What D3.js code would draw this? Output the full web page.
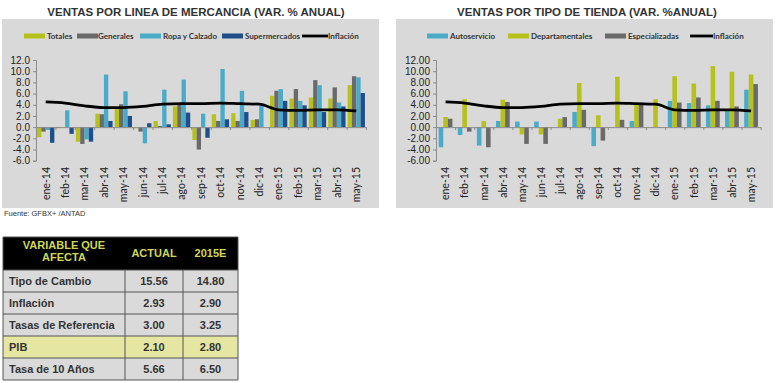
<!DOCTYPE html>
<html>
<head>
<meta charset="utf-8">
<script src="https://cdn.jsdelivr.net/npm/d3@7"></script>
<style>
  body { margin: 0; background: #fff; }
  svg { display: block; }
</style>
</head>
<body>
<svg></svg>
<script>
let width = 780;
let height = 383;

const months = ['ene-14', 'feb-14', 'mar-14', 'abr-14', 'may-14', 'jun-14', 'jul-14', 'ago-14',
  'sep-14', 'oct-14', 'nov-14', 'dic-14', 'ene-15', 'feb-15', 'mar-15', 'abr-15', 'may-15'];

// ventas por linea de mercancia
const totales       = [-1.8, -0.2, -2.6, 2.4, 3.3, -0.2, 1.1, 3.7, -2.3, 2.3, 2.5, 1.3, 5.6, 5.1, 5.3, 5.1, 7.5];
const generales     = [-0.8, 0.0, -3.0, 2.3, 4.1, -0.8, 0.2, 4.0, -4.0, 1.1, 1.1, 1.4, 6.5, 6.8, 8.4, 7.1, 9.1];
const ropaCalzado   = [-0.5, 3.0, -2.2, 9.4, 6.4, -2.9, 6.7, 8.5, 2.4, 10.4, 6.5, 3.9, 6.8, 4.7, 7.5, 4.4, 8.9];
const supermercados = [-2.8, -1.2, -2.6, 1.1, 2.0, 0.7, 0.5, 2.6, -1.9, 1.4, 2.7, 0.0, 4.7, 3.9, 2.7, 3.7, 6.1];

// ventas por tipo de tienda
const autoservicio     = [-3.6, -1.4, -3.3, 1.1, 1.0, 1.0, 0.0, 2.7, -3.4, 0.0, 1.1, 0.0, 4.7, 4.3, 3.9, 3.2, 6.7];
const departamentales  = [1.8, 5.0, 1.1, 4.9, -1.3, -1.3, 1.5, 7.9, 2.1, 9.0, 4.1, 5.0, 9.1, 7.8, 10.9, 9.9, 9.4];
const especializadas   = [1.5, -0.8, -3.6, 4.5, -3.0, -3.0, 1.8, 3.1, -2.4, 1.3, 4.2, -0.1, 4.4, 5.3, 4.7, 3.7, 7.7];

const inflacion = [4.5, 4.3, 3.8, 3.5, 3.5, 3.7, 4.1, 4.2, 4.2, 4.3, 4.2, 4.1, 3.1, 3.0, 3.1, 3.1, 2.9];

const leftTicks = ['12.0', '10.0', '8.0', '6.0', '4.0', '2.0', '0.0', '-2.0', '-4.0', '-6.0'];
const rightTicks = ['12.00', '10.00', '8.00', '6.00', '4.00', '2.00', '0.00', '-2.00', '-4.00', '-6.00'];

// tabla
const variables = ['Tipo de Cambio', 'Inflación', 'Tasas de Referencia', 'PIB', 'Tasa de 10 Años'];
const actual    = ['15.56', '2.93', '3.00', '2.10', '5.66'];
const est2015   = ['14.80', '2.90', '3.25', '2.80', '6.50'];

const colors = {
  olive: '#b7c11c',
  gray: '#6a6a6a',
  light: '#4aabc8',
  navy: '#1f4e8a'
};

let svg = d3.select('svg')
            .attr('width', width)
            .attr('height', height)
            .style('font-family', 'Lato, "Open Sans", sans-serif');

makeChart({
  x0: 2, panelW: 377, title: 'VENTAS POR LINEA DE MERCANCIA  (VAR. % ANUAL)', titleX: 196,
  range: [36, 366], padding: 0.11,
  series: [
    { name: 'Totales', values: totales, color: colors.olive, lx: 24, tx: 47 },
    { name: 'Generales', values: generales, color: colors.gray, lx: 77, tx: 98 },
    { name: 'Ropa y Calzado', values: ropaCalzado, color: colors.light, lx: 140, tx: 163 },
    { name: 'Supermercados', values: supermercados, color: colors.navy, lx: 222, tx: 245 }
  ],
  inflLegend: { lx: 302, tx: 328 },
  ticks: leftTicks
});

makeChart({
  x0: 396, panelW: 377, title: 'VENTAS POR TIPO DE TIENDA (VAR. %ANUAL)', titleX: 587,
  range: [436, 760.6], padding: 0.28,
  series: [
    { name: 'Autoservicio', values: autoservicio, color: colors.light, lx: 427, tx: 450 },
    { name: 'Departamentales', values: departamentales, color: colors.olive, lx: 508, tx: 531 },
    { name: 'Especializadas', values: especializadas, color: colors.gray, lx: 605, tx: 628 }
  ],
  inflLegend: { lx: 690, tx: 713 },
  ticks: rightTicks
});

function makeChart(cfg) {
  let g = svg.append('g');

  g.append('rect')
    .attr('x', cfg.x0).attr('y', 19)
    .attr('width', cfg.panelW).attr('height', 189)
    .attr('fill', '#d9d9d9');

  svg.append('text')
    .attr('x', cfg.titleX).attr('y', 16)
    .attr('text-anchor', 'middle')
    .style('font-family', '"Liberation Sans", Arial, sans-serif')
    .style('font-weight', 'bold')
    .style('font-size', '11.5px')
    .attr('fill', '#333')
    .text(cfg.title);

  let x = d3.scaleBand().domain(months).range(cfg.range).paddingInner(cfg.padding).paddingOuter(cfg.padding / 2);
  let xs = d3.scaleBand().domain(cfg.series.map(s => s.name)).range([0, x.bandwidth()]);
  let y = d3.scaleLinear().domain([-6, 12]).range([160.7, 60]);

  // bars
  cfg.series.forEach(s => {
    g.selectAll(null)
      .data(s.values)
      .enter()
      .append('rect')
        .attr('x', (d, i) => x(months[i]) + xs(s.name))
        .attr('y', d => y(Math.max(0, d)))
        .attr('width', xs.bandwidth())
        .attr('height', d => Math.abs(y(d) - y(0)))
        .attr('fill', s.color);
  });

  // y axis
  let yAxis = d3.axisLeft(y)
    .tickValues(cfg.ticks.map(Number))
    .tickFormat((d, i) => cfg.ticks[i])
    .tickSize(3);
  let ya = g.append('g')
    .attr('transform', `translate(${cfg.range[0]},0)`)
    .call(yAxis);
  ya.select('.domain').attr('stroke', '#8c8c8c');
  ya.selectAll('.tick line').attr('stroke', '#8c8c8c');
  ya.selectAll('text')
    .attr('x', -6)
    .style('font-size', '10px')
    .attr('fill', '#222');

  // zero line with category ticks
  let xAxis = d3.axisBottom(d3.scaleLinear().domain([0, months.length]).range(cfg.range))
    .tickValues(d3.range(months.length + 1))
    .tickFormat('')
    .tickSize(3)
    .tickSizeOuter(0);
  let xa = g.append('g')
    .attr('transform', `translate(0,${y(0)})`)
    .call(xAxis);
  xa.select('.domain').attr('stroke', '#8c8c8c');
  xa.selectAll('.tick line').attr('stroke', '#8c8c8c');

  // month labels
  g.selectAll(null)
    .data(months)
    .enter()
    .append('text')
      .attr('transform', d => `translate(${x(d) + x.bandwidth() / 2 + 3.8},167) rotate(-90)`)
      .attr('text-anchor', 'end')
      .style('font-size', '10.5px')
      .attr('fill', '#222')
      .text(d => d);

  // inflation line
  let line = d3.line()
    .x((d, i) => x(months[i]) + x.bandwidth() / 2)
    .y(d => y(d))
    .curve(d3.curveMonotoneX);
  g.append('path')
    .datum(inflacion)
    .attr('d', line)
    .attr('fill', 'none')
    .attr('stroke', '#000')
    .attr('stroke-width', 2.8);

  // legend
  let ly = 36;
  cfg.series.forEach(s => {
    g.append('rect')
      .attr('x', s.lx).attr('y', ly - 2.5)
      .attr('width', 21).attr('height', 5)
      .attr('fill', s.color);
    g.append('text')
      .attr('x', s.tx).attr('y', ly + 3)
      .style('font-size', '8px')
      .style('font-weight', 'bold')
      .attr('fill', '#333')
      .text(s.name);
  });
  g.append('line')
    .attr('x1', cfg.inflLegend.lx).attr('x2', cfg.inflLegend.tx)
    .attr('y1', ly).attr('y2', ly)
    .attr('stroke', '#000').attr('stroke-width', 2.8);
  g.append('text')
    .attr('x', cfg.inflLegend.tx).attr('y', ly + 3)
    .style('font-size', '8px')
    .style('font-weight', 'bold')
    .attr('fill', '#333')
    .text('Inflación');
}

// source
svg.append('text')
  .attr('x', 4).attr('y', 216)
  .style('font-family', '"Liberation Sans", Arial, sans-serif')
  .style('font-size', '7.5px')
  .attr('fill', '#333')
  .text('Fuente: GFBX+ /ANTAD');

// table
let cols = [3, 125, 183, 238];
let headerTop = 237, headerBottom = 270, rowH = 22;
let table = svg.append('g')
  .style('font-family', '"Liberation Sans", Arial, sans-serif')
  .style('font-weight', 'bold')
  .style('font-size', '11px');

table.append('rect')
  .attr('x', cols[0]).attr('y', headerTop)
  .attr('width', cols[3] - cols[0]).attr('height', headerBottom - headerTop)
  .attr('fill', '#000');

[['VARIABLE QUE', 64, 249], ['AFECTA', 64, 261], ['ACTUAL', 154, 257], ['2015E', 210.5, 257]].forEach(h => {
  table.append('text')
    .attr('x', h[1]).attr('y', h[2])
    .attr('text-anchor', 'middle')
    .attr('fill', '#cfd65a')
    .text(h[0]);
});

let rows = table.selectAll('.row')
  .data(variables)
  .enter()
  .append('g')
    .attr('class', 'row')
    .attr('transform', (d, i) => `translate(0,${headerBottom + i * rowH})`);

rows.append('rect')
  .attr('x', cols[0]).attr('y', 0)
  .attr('width', cols[3] - cols[0]).attr('height', rowH)
  .attr('fill', d => d === 'PIB' ? '#e6e6a3' : '#dadada');

rows.append('text')
  .attr('x', 9).attr('y', rowH / 2 + 4)
  .attr('fill', '#333')
  .text(d => d);
rows.append('text')
  .attr('x', 154).attr('y', rowH / 2 + 4)
  .attr('text-anchor', 'middle')
  .attr('fill', '#333')
  .text((d, i) => actual[i]);
rows.append('text')
  .attr('x', 210.5).attr('y', rowH / 2 + 4)
  .attr('text-anchor', 'middle')
  .attr('fill', '#333')
  .text((d, i) => est2015[i]);

// grid lines
let tableBottom = headerBottom + variables.length * rowH;
d3.range(variables.length + 1).forEach(i => {
  table.append('line')
    .attr('x1', cols[0]).attr('x2', cols[3])
    .attr('y1', headerBottom + i * rowH).attr('y2', headerBottom + i * rowH)
    .attr('stroke', '#555').attr('stroke-width', 1);
});
cols.forEach((c, i) => {
  table.append('line')
    .attr('x1', c).attr('x2', c)
    .attr('y1', (i === 0 || i === 3) ? headerTop : headerBottom).attr('y2', tableBottom)
    .attr('stroke', '#555').attr('stroke-width', 1);
});
table.append('line')
  .attr('x1', cols[0]).attr('x2', cols[3])
  .attr('y1', headerTop).attr('y2', headerTop)
  .attr('stroke', '#555');
</script>
</body>
</html>
